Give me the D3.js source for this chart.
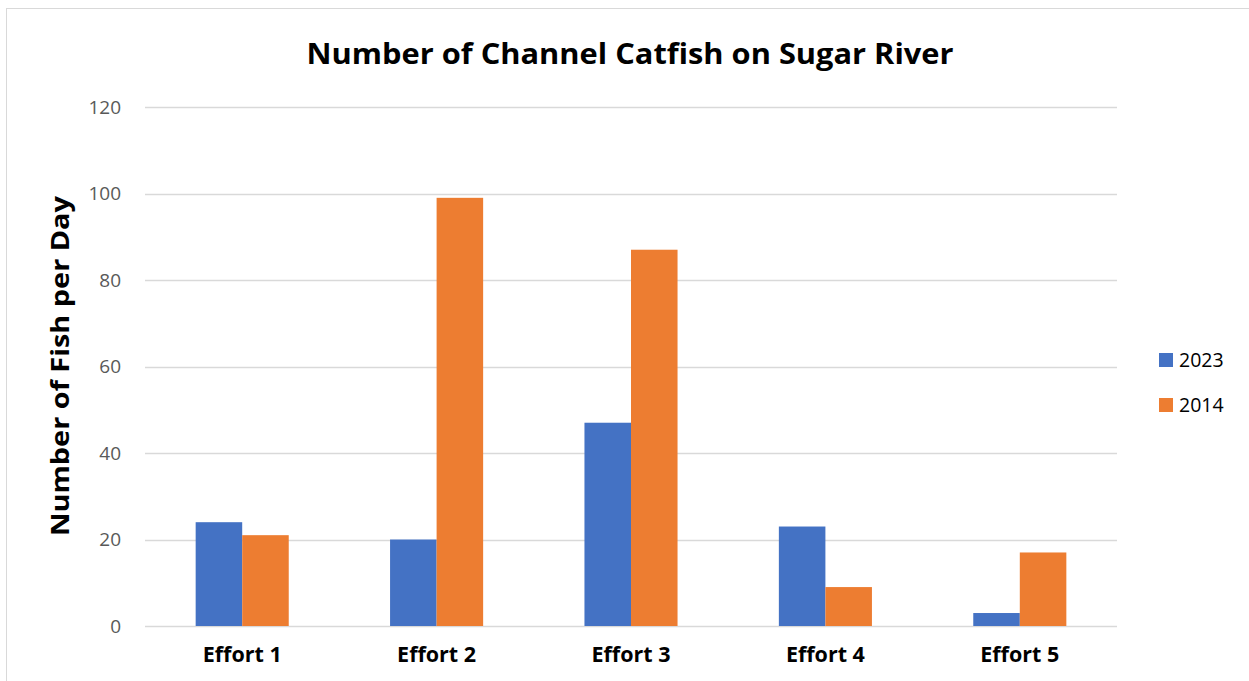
<!DOCTYPE html>
<html><head><meta charset="utf-8">
<script src="https://cdn.jsdelivr.net/npm/d3@7"></script>
<style>body{margin:0;background:#fff}svg{display:block}</style>
</head><body>
<script>
const categories = ["Effort 1","Effort 2","Effort 3","Effort 4","Effort 5"];
const seriesNames = ["2023","2014"];
const values2023 = [24,20,47,23,3];
const values2014 = [21,99,87,9,17];
const yTicks = [0,20,40,60,80,100,120];
const colors = ["#4472C4","#ED7D31"];
const titleText = "Number of Channel Catfish on Sugar River";
const yTitle = "Number of Fish per Day";

(function(){
const W=1249,H=681;
const svg=d3.select("body").append("svg").attr("width",W).attr("height",H);
const font="'Open Sans', sans-serif";
svg.append("rect").attr("x",6.5).attr("y",8.5).attr("width",1260).attr("height",700)
  .attr("fill","#fff").attr("stroke","#d9d9d9").attr("stroke-width",1);

const pL=145,pR=1117,pT=107,pB=626;
const x=d3.scaleBand().domain(categories).range([pL,pR]).paddingInner(0.5212).paddingOuter(0.2606);
const xs=d3.scaleBand().domain(seriesNames).range([0,x.bandwidth()]);
const y=d3.scaleLinear().domain([0,120]).range([pB,pT]);

svg.append("g").selectAll("line").data(yTicks).join("line")
  .attr("x1",pL).attr("x2",pR).attr("y1",d=>Math.round(y(d))+0.5).attr("y2",d=>Math.round(y(d))+0.5)
  .attr("stroke","#d9d9d9").attr("stroke-width",1.3);

const yAxis=d3.axisLeft(y).tickValues(yTicks).tickSize(0).tickPadding(24);
const gy=svg.append("g").attr("transform",`translate(${pL},0)`).call(yAxis);
gy.select(".domain").remove();
gy.selectAll("text").attr("font-family",font).attr("font-size",19).attr("fill","#595959");

const data=categories.map((c,i)=>({c,vals:[values2023[i],values2014[i]]}));
const g=svg.append("g");
data.forEach(d=>{
  d.vals.forEach((v,j)=>{
    g.append("rect").attr("x",x(d.c)+xs(seriesNames[j])).attr("width",xs.bandwidth())
     .attr("y",y(v)).attr("height",y(0)-y(v)).attr("fill",colors[j]);
  });
});

const xAxis=d3.axisBottom(x).tickSize(0).tickPadding(21);
const gx=svg.append("g").attr("transform",`translate(0,${pB})`).call(xAxis);
gx.select(".domain").remove();
gx.selectAll("text").attr("font-family",font).attr("font-size",21.5).attr("font-weight","bold").attr("fill","#000");

svg.append("text").attr("x",630).attr("y",64).attr("text-anchor","middle")
  .attr("font-family",font).attr("font-size",29).attr("font-weight","bold").attr("fill","#000")
  .attr("textLength",647).attr("lengthAdjust","spacingAndGlyphs").text(titleText);

svg.append("text").attr("transform","translate(69,366) rotate(-90)").attr("text-anchor","middle")
  .attr("font-family",font).attr("font-size",25).attr("font-weight","bold").attr("fill","#000")
  .attr("textLength",340).attr("lengthAdjust","spacingAndGlyphs").text(yTitle);

const lg=svg.append("g");
seriesNames.forEach((s,i)=>{
  const yy=353+i*45;
  lg.append("rect").attr("x",1159).attr("y",yy).attr("width",14).attr("height",14).attr("fill",colors[i]);
  lg.append("text").attr("x",1179).attr("y",yy+14).attr("font-family",font).attr("font-size",19.5).attr("fill","#000").text(s);
});
})();
</script>
</body></html>
